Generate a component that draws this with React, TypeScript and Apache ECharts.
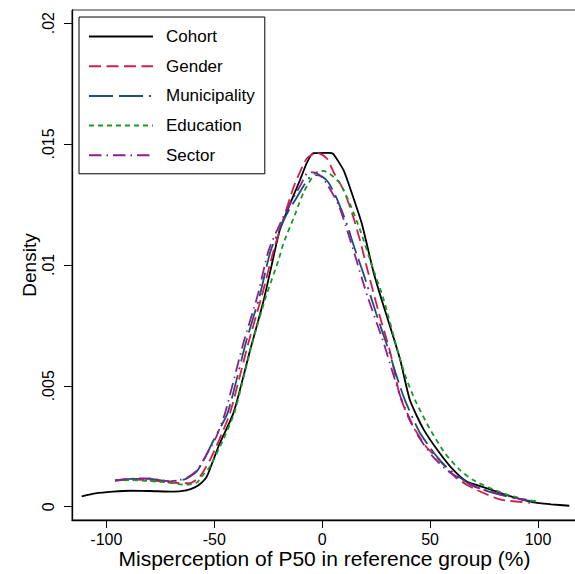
import React, { useEffect, useRef } from 'react';
import * as echarts from 'echarts';

// kernel density estimates, [misperception %, density]
const cohort: [number, number][] = [
  [-111.4, 0.00043], [-105, 0.00055], [-97, 0.00062], [-89, 0.00066], [-80, 0.00065],
  [-69, 0.00062], [-63, 0.00068], [-59, 0.0008], [-56, 0.00098], [-53.4, 0.00125],
  [-48, 0.0025], [-41, 0.0039], [-33.3, 0.0065], [-27.2, 0.0085], [-22.5, 0.01035],
  [-19.6, 0.01145], [-15, 0.0125], [-10.3, 0.0135], [-7.2, 0.0142], [-4.1, 0.01462],
  [3, 0.01463], [5, 0.0146], [10, 0.0139], [14, 0.0129], [18.4, 0.0117],
  [23.8, 0.0097], [27.6, 0.00855], [32, 0.0073], [36.1, 0.0061], [40.7, 0.0044],
  [47, 0.0032], [54.6, 0.0022], [61, 0.0015], [67, 0.00104], [75, 0.0008],
  [82.4, 0.00057], [90, 0.00036], [97.8, 0.00018], [106, 0.0001], [114.5, 0.00004],
];

const gender: [number, number][] = [
  [-96, 0.00108], [-88, 0.00112], [-80, 0.0011], [-70.6, 0.001], [-61.3, 0.00097],
  [-56.7, 0.00124], [-52, 0.00193], [-48, 0.0027], [-42.6, 0.0039], [-34.1, 0.0068],
  [-28, 0.0087], [-22.5, 0.0106], [-19, 0.0116], [-13.3, 0.0132], [-10, 0.0139],
  [-7.1, 0.0144], [-2.5, 0.01465], [2.2, 0.0144], [5.5, 0.0138], [9.9, 0.0131],
  [14, 0.0121], [17.6, 0.011], [21, 0.0098], [26, 0.0081], [31.5, 0.0064],
  [36, 0.0046], [41, 0.0035], [48, 0.0025], [54.6, 0.0019], [62, 0.0012],
  [70, 0.00076], [82.4, 0.0003], [96.3, 0.00016],
];

const municipality: [number, number][] = [
  [-96, 0.00109], [-88, 0.00115], [-80, 0.00115], [-70.6, 0.00105], [-63, 0.00115],
  [-58.2, 0.00145], [-55, 0.0019], [-50, 0.0028], [-43.7, 0.0039], [-35.3, 0.0068],
  [-29, 0.0087], [-23.8, 0.0106], [-17, 0.012], [-11.7, 0.0128], [-6.3, 0.01357],
  [-3.2, 0.01371], [0, 0.01365], [3, 0.0134], [7, 0.0127], [11.4, 0.0117],
  [15, 0.0107], [19.1, 0.00965], [25, 0.008], [30.7, 0.0065], [34.5, 0.0054],
  [38.4, 0.0044], [45, 0.0031], [52, 0.0022], [58, 0.0016], [64, 0.0012],
  [70, 0.00085], [80, 0.00055], [90, 0.00033], [99, 0.0002],
];

const education: [number, number][] = [
  [-96, 0.00108], [-88, 0.0011], [-80, 0.00106], [-70.6, 0.001], [-62.9, 0.0009],
  [-58, 0.001], [-55.2, 0.00131], [-52, 0.00165], [-45.9, 0.00276], [-40.6, 0.0039],
  [-32.3, 0.0068], [-26, 0.0087], [-20.2, 0.0102], [-17.9, 0.0109], [-12.5, 0.0121],
  [-8.6, 0.013], [-3.2, 0.0138], [0.6, 0.01389], [4.5, 0.0137], [8.3, 0.01337],
  [13, 0.0125], [17.6, 0.01144], [23, 0.01], [28.4, 0.0086], [35.3, 0.00635],
  [39, 0.0053], [43.1, 0.0044], [50, 0.0032], [57, 0.0022], [64, 0.0015],
  [70, 0.0011], [77, 0.0008], [85, 0.00052], [93, 0.00032], [99.4, 0.00022],
];

const sector: [number, number][] = [
  [-96, 0.00109], [-88, 0.00116], [-80, 0.00117], [-70.6, 0.00105], [-63, 0.00118],
  [-58.2, 0.00148], [-55.2, 0.0019], [-49, 0.0029], [-44.9, 0.0039], [-36.4, 0.0068],
  [-30, 0.0087], [-24.8, 0.0106], [-19, 0.0118], [-14.8, 0.01254], [-10, 0.0133],
  [-7.1, 0.01378], [-4, 0.01383], [-1, 0.0137], [2.2, 0.01335], [7.5, 0.0125],
  [11, 0.0116], [14.5, 0.0106], [21, 0.0087], [28.4, 0.0068], [32.5, 0.0056],
  [36.9, 0.0044], [44, 0.003], [51, 0.0021], [58, 0.0015], [65, 0.0011],
  [72, 0.0008], [80, 0.00058], [90, 0.00035], [97, 0.00022],
];

const xTicks = [-100, -50, 0, 50, 100];
const yTicks = [0, 0.005, 0.01, 0.015, 0.02];
const yTickLabels = ['0', '.005', '.01', '.015', '.02'];

const FONT = "'Liberation Sans', Arial, sans-serif";

const App: React.FC = () => {
  const chartRef = useRef<HTMLDivElement>(null);

  useEffect(() => {
    if (!chartRef.current) return;
    const chart = echarts.init(chartRef.current, null, { renderer: 'svg' });

    const line = (name: string, data: [number, number][], color: string, type: any, width: number) => ({
      name,
      type: 'line',
      data,
      symbol: 'none',
      smooth: 0.2,
      lineStyle: { color, type, width },
      itemStyle: { color },
    });

    const options: echarts.EChartsOption = {
      animation: false,
      backgroundColor: '#fff',
      textStyle: { fontFamily: FONT },
      grid: {
        left: 72, top: 10, right: -2, bottom: 54,
        outerBoundsMode: 'none',
        show: true, borderColor: '#333', borderWidth: 1,
      } as any,
      legend: {
        orient: 'vertical',
        left: 79,
        top: 17,
        padding: [11, 10, 10, 9],
        itemWidth: 64,
        itemHeight: 14,
        itemGap: 12.7,
        borderColor: '#000',
        borderWidth: 1,
        backgroundColor: '#fff',
        itemStyle: { opacity: 0 },
        textStyle: { fontSize: 17, color: '#000', fontFamily: FONT, padding: [0, 0, 0, 8] },
      },
      xAxis: {
        type: 'value',
        min: -115.9,
        max: 118.08,
        name: 'Misperception of P50 in reference group (%)',
        nameLocation: 'middle',
        nameGap: 28,
        nameMoveOverlap: false,
        nameTextStyle: { fontSize: 21, color: '#000', fontFamily: FONT },
        axisLine: { show: true, onZero: false, lineStyle: { color: '#000', width: 1.3 } },
        axisTick: { show: true, customValues: xTicks, length: 8, lineStyle: { color: '#000' } },
        axisLabel: {
          customValues: xTicks, fontSize: 16, color: '#000', margin: 11, fontFamily: FONT,
          formatter: (v: number) => String(v),
        },
        splitLine: { show: false },
      } as any,
      yAxis: {
        type: 'value',
        min: -0.00055,
        max: 0.020542,
        name: 'Density',
        nameLocation: 'middle',
        nameGap: 33,
        nameMoveOverlap: false,
        nameTextStyle: { fontSize: 19, color: '#000', fontFamily: FONT },
        axisLine: { show: true, onZero: false, lineStyle: { color: '#000', width: 1.3 } },
        axisTick: { show: true, customValues: yTicks, length: 8, lineStyle: { color: '#000' } },
        axisLabel: {
          customValues: yTicks, fontSize: 16, color: '#000', margin: 16, rotate: 90, fontFamily: FONT,
          formatter: (v: number) => {
            const i = yTicks.findIndex((t) => Math.abs(t - v) < 1e-9);
            return i >= 0 ? yTickLabels[i] : '';
          },
        },
        splitLine: { show: false },
      } as any,
      series: [
        line('Cohort', cohort, '#000000', 'solid', 1.8),
        line('Gender', gender, '#d11f4c', [12, 5.5], 1.8),
        line('Municipality', municipality, '#1f4e79', [24, 6, 24, 6, 2, 6], 1.8),
        line('Education', education, '#1a9a24', [5, 4], 1.8),
        line('Sector', sector, '#8e1f8f', [12.5, 5, 1.5, 5], 1.8),
      ] as any,
    };

    chart.setOption(options);
    return () => {
      chart.dispose();
    };
  }, []);

  return (
    <div
      ref={chartRef}
      style={{ position: 'absolute', left: 0, top: 0, width: 575, height: 574 }}
    />
  );
};

export default App;
